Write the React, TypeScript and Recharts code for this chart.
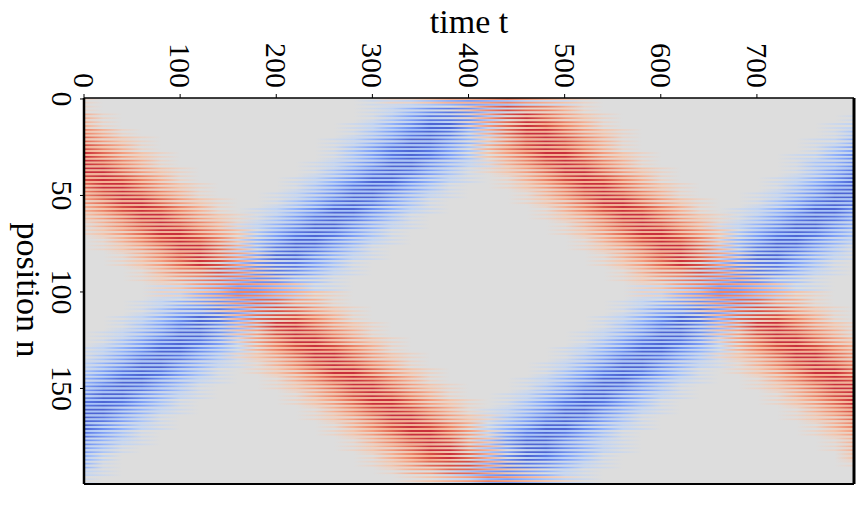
import { BarChart, Bar, Cell, XAxis, YAxis, CartesianGrid } from 'recharts'

// One string per 4 positions, one sign per t = 0, 20, 40 ... 800.
// 1-9 is the red side of the colormap, a-i the blue side, 0 the grey middle.
const EVEN_ROWS = [
  '1000000000 0000001123 3454321000 0000000000 0',
  '1000000000 000000aaa0 2576531000 0000000000 0',
  '3100000000 000000abba 1478642100 0000000000 0',
  '3100000000 00000aabcb 1468753100 0000000000 0',
  '5310000000 00000abccb 0368864210 0000000000 a',
  '6421000000 0000aabccb 0257875310 0000000000 a',
  '7531000000 0000abcccb 0357875310 000000000a a',
  '8642100000 0000abcccb 0246886421 000000000a b',
  '8753100000 000aabccba a135787531 00000000aa b',
  '8864210000 000abcccba 0124688642 10000000ab c',
  '7875310000 00aabccbaa 0013578753 1000000aab c',
  '6886421000 00abcccba0 0012468864 2100000abc c',
  '5787531000 0aabccbaa0 0001357875 310000aabc c',
  '4688642100 0abcccba00 0001246886 421000abcc c',
  '3578753100 aabccbaa00 0000135787 53100aabcc b',
  '2468864210 abcccba000 0000124688 64210abccc b',
  '135787531a abccbaa000 0000013578 7531aabccb a',
  '1246886420 bcccba0000 0000012468 86420bcccb a',
  '0135787520 bccbaa0000 0000001357 87520bccba a',
  '0124688630 bccba00000 0000001246 88630bccba 0',
  '0013578641 bcbaa00000 0000000135 78641bcbaa 0',
  '0012468741 abba000000 0000000124 68741abba0 0',
  '0001356752 0aaa000000 0000000013 567520aaa0 0',
  '0001245653 1000000000 0000000012 4565310000 0',
  '0000124554 3200000000 0000000001 2455432000 0',
  '0000112355 4321000000 0000000001 1235543210 0',
  '0000a01246 6431000000 000000000a 0124664310 0',
  '0000aaa136 7642100000 000000000a aa13676421 0',
  '000aabb036 7753100000 00000000aa bb03677531 0',
  '000abcba25 8864210000 00000000ab cba2588642 1',
  '00aabcca24 7875310000 0000000aab cca2478753 1',
  '00abccca14 6886421000 0000000abc cca1468864 2',
  '0aabccba03 5787531000 000000aabc cba0357875 3',
  '0abcccba12 4688642100 000000abcc cba1246886 4',
  'aabccbaa01 3578753100 00000aabcc baa0135787 5',
  'abcccba001 2468864210 00000abccc ba00124688 6',
  'abccbaa000 1357875310 0000aabccb aa00013578 7',
  'bcccba0000 1246886421 0000abcccb a000012468 8',
  'bccbaa0000 0135787531 000aabccba a000001357 8',
  'cccba00000 0124688642 100abcccba 0000001246 8',
  'ccbaa00000 0013578753 10aabccbaa 0000000135 7',
  'ccba000000 0012468864 21abcccba0 0000000124 6',
  'cbaa000000 0001357875 30abccbaa0 0000000013 5',
  'cba0000000 0001246886 41acccba00 0000000012 4',
  'baa0000000 0000135787 42accbaa00 0000000001 3',
  'ba00000000 0000124688 530bcbaa00 0000000001 3',
  'b000000000 0000013578 630bcba000 0000000000 2',
  'a000000000 0000012467 741aaaa000 0000000000 1',
  'a000000000 0000001346 64210a0000 0000000000 0',
  '0000000000 0000000123 4543210000 0000000000 0',
]

const ODD_ROWS = [
  '0000000000 00000aabcd edcbaa0000 0000000000 0',
  '0000000000 00000abdfg fca1110000 0000000000 0',
  '1000000000 00000acegg fc02211000 0000000000 a',
  '1000000000 0000abdfhh eb12321000 000000000a b',
  '2100000000 0000aceghg db13321100 000000000a c',
  '2110000000 000abdfhhf da13332100 00000000ab d',
  '3210000000 000aceghge c023332100 00000000ac e',
  '3211000000 000aceghge c012332110 0000000abd f',
  '3321000000 00abdfhhfd ba12333210 0000000acd f',
  '3321100000 00aceghgec a011233211 0000000ace g',
  '3332100000 0abdfhhfdb a001233321 000000abdf h',
  '2332110000 0aceghgeca 0001123321 100000aceg h',
  '2333210000 abdfhhfdba 0000123332 10000abdfh h',
  '1233211000 aceghgeca0 0000112332 11000acegh g',
  '123332100a bdfhhfdba0 0000012333 2100abdfhh f',
  '112332110a ceghgeca00 0000011233 2110aceghg e',
  '01233321ab dfhhfdba00 0000001233 321abdfhhf d',
  '011233210c eghgeca000 0000001123 3210ceghge c',
  '00123331ad fhhfdba000 0000000123 331adfhhfd b',
  '00112331bd ghgeca0000 0000000112 331bdghgec a',
  '00012321be hhfdba0000 0000000012 321behhfdb a',
  '00011220cf ggeca00000 0000000011 220cfggeca 0',
  '0000111acf gfdba00000 0000000001 11acfgfdba 0',
  '000010abdf fdca000000 0000000001 0abdffdca0 0',
  '0000aabcee dcba000000 000000000a abceedcba0 0',
  '0000abdeed cb00000000 000000000a bdeedcb000 0',
  '000abdefec a000000000 00000000ab defeca0000 0',
  '000acefgeb 0111000000 00000000ac efgeb01110 0',
  '00abdfhgda 1221000000 0000000abd fhgda12210 0',
  '00aceghfda 2321100000 0000000ace ghfda23211 0',
  '0abdfhhfc0 2332100000 000000abdf hhfc023321 0',
  '0aceghgeb0 2332110000 000000aceg hgeb023321 1',
  'abdfhhfdb0 2333210000 00000abdfh hfdb023332 1',
  'aceghgeca1 1233211000 00000acegh geca112332 1',
  'bdfhhfdba0 1233321000 0000abdfhh fdba012333 2',
  'ceghgeca00 1123321100 0000aceghg eca0011233 2',
  'dfhhfdba00 0123332100 000abdfhhf dba0001233 3',
  'eghgeca000 0112332110 000aceghge ca00001123 3',
  'fhhfdba000 0012333210 00abdfhhfd ba00000123 3',
  'ghgeca0000 0011233211 00aceghgec a000000112 3',
  'hhfdba0000 0001233321 0abdfhhfdb a000000012 3',
  'hgeca00000 0001123321 1aceghgeca 0000000011 2',
  'hfdba00000 0000123332 0bdfhhfdba 0000000001 2',
  'geca000000 0000112332 0beghgeca0 0000000001 1',
  'fdba000000 0000012332 0cfhhfdba0 0000000000 1',
  'eca0000000 0000011232 0cehhfdba0 0000000000 1',
  'db00000000 0000001232 0cfhgeca00 0000000000 1',
  'da00000000 0000001111 adggfdba00 0000000000 0',
  'ba00000000 000000000a cefedba000 0000000000 0',
  'a000000000 000000000a bdedcba000 0000000000 0',
]

const RED_SIDE = ['#dddddd', '#ead3c7', '#f4c4ab', '#f5b094', '#f49c7e', '#ec8469', '#e26a56', '#d64f45', '#c9303a', '#b40426']
const BLUE_SIDE = ['#dddddd', '#cdd8eb', '#bfd3f4', '#a9c4f9', '#92b3fc', '#7e9ff7', '#6c8eef', '#5a78e3', '#4c65d4', '#3b4cc0']

const T_TICKS = [0, 100, 200, 300, 400, 500, 600, 700]
const N_TICKS = [0, 50, 100, 150]
const T_MAX = 801
const ROW_COUNT = 200

const FONT = '"Liberation Serif", serif'

const rows = Array.from({ length: ROW_COUNT }, (_, n) => ({ n, span: T_MAX }))

function levelColor(ch: string) {
  if (ch >= '0' && ch <= '9') return RED_SIDE[Number(ch)]
  return BLUE_SIDE[ch.charCodeAt(0) - 96]
}

function RowGradient({ id, row }: { id: string; row: string }) {
  const levels = row.replace(/ /g, '').split('')
  return (
    <linearGradient id={id} x1="0" y1="0" x2="1" y2="0">
      {levels.map((ch, i) => (
        <stop key={i} offset={i / 40} stopColor={levelColor(ch)} />
      ))}
    </linearGradient>
  )
}

function TimeTick({ x, y, payload }: any) {
  return (
    <text transform={`translate(${x - 10},${y - 4}) rotate(90)`} textAnchor="end" fontFamily={FONT} fontSize={30} fill="#000">
      {payload.value}
    </text>
  )
}

function PositionTick({ x, y, payload }: any) {
  return (
    <text transform={`translate(${x - 26},${y}) rotate(90)`} textAnchor="middle" fontFamily={FONT} fontSize={30} fill="#000">
      {payload.value}
    </text>
  )
}

export default function App() {
  return (
    <div style={{ position: 'absolute', left: 0, top: 0 }}>
      <BarChart
        width={864}
        height={516}
        data={rows}
        layout="vertical"
        barCategoryGap={0}
        margin={{ top: 38, right: 9, bottom: 31, left: 24 }}
      >
        <defs>
          {EVEN_ROWS.map((row, k) => <RowGradient key={k} id={`even-${k}`} row={row} />)}
          {ODD_ROWS.map((row, k) => <RowGradient key={k} id={`odd-${k}`} row={row} />)}
        </defs>
        <CartesianGrid horizontal={false} vertical={false} fill="#dddddd" />
        <XAxis
          type="number"
          orientation="top"
          height={60}
          domain={[0, T_MAX]}
          ticks={T_TICKS}
          interval={0}
          tick={<TimeTick />}
          tickSize={4}
          axisLine={{ stroke: '#000', strokeWidth: 1.5 }}
          tickLine={{ stroke: '#000', strokeWidth: 1 }}
        />
        <XAxis
          xAxisId="frame"
          type="number"
          orientation="bottom"
          height={1}
          domain={[0, T_MAX]}
          tick={false}
          tickLine={false}
          axisLine={{ stroke: '#000', strokeWidth: 2 }}
        />
        <YAxis
          type="category"
          dataKey="n"
          width={60}
          ticks={N_TICKS}
          interval={0}
          tick={<PositionTick />}
          tickSize={4}
          axisLine={{ stroke: '#000', strokeWidth: 2.5 }}
          tickLine={{ stroke: '#000', strokeWidth: 1 }}
        />
        <YAxis
          yAxisId="frame"
          type="number"
          orientation="right"
          width={1}
          domain={[0, 1]}
          tick={false}
          tickLine={false}
          axisLine={{ stroke: '#000', strokeWidth: 3 }}
        />
        <Bar dataKey="span" isAnimationActive={false}>
          {rows.map(({ n }) => (
            <Cell key={n} fill={`url(#${n % 2 === 0 ? 'even' : 'odd'}-${Math.floor(n / 4)})`} />
          ))}
        </Bar>
        <text x={469} y={33} textAnchor="middle" fontFamily={FONT} fontSize={34} fill="#000">time t</text>
        <text transform="translate(17,290) rotate(90)" textAnchor="middle" fontFamily={FONT} fontSize={34} fill="#000">position n</text>
      </BarChart>
    </div>
  )
}
